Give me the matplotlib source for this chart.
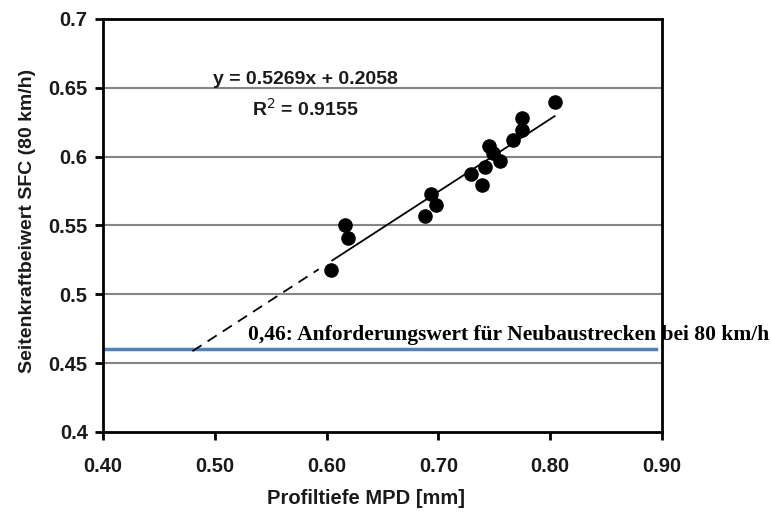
import numpy as np
import matplotlib.pyplot as plt

# Messwerte: Profiltiefe MPD [mm] und Seitenkraftbeiwert SFC (80 km/h)
mpd = [0.604, 0.6165, 0.619, 0.688, 0.6934, 0.698, 0.729, 0.739, 0.742,
       0.7455, 0.749, 0.755, 0.767, 0.7745, 0.7745, 0.8043]
sfc = [0.518, 0.550, 0.5406, 0.5568, 0.573, 0.5647, 0.5877, 0.5797, 0.5925,
       0.608, 0.6027, 0.597, 0.612, 0.619, 0.628, 0.640]

# lineare Regression (Angabe im Diagramm)
steigung = 0.5269
achsenabschnitt = 0.2058
r2 = 0.9155

# Anforderungswert
grenzwert = 0.46

x_ticks = [0.40, 0.50, 0.60, 0.70, 0.80, 0.90]
y_ticks = [0.4, 0.45, 0.5, 0.55, 0.6, 0.65, 0.7]

fig = plt.figure(figsize=(7.71, 5.12), dpi=100)
ax = fig.add_axes([0.1336, 0.1563, 0.725, 0.8066])

for yv in y_ticks[1:-1]:
    ax.axhline(yv, color='#858585', lw=1.5, zorder=1)

ax.plot([0.40, 0.895], [grenzwert, grenzwert], color='#4f81bd', lw=2.5, zorder=2)

# Trendlinie: gestrichelt extrapoliert, durchgezogen im Messbereich
xd = np.array([0.48, 0.593])
ax.plot(xd, steigung * xd + achsenabschnitt, color='black', lw=1.3,
        dashes=(6, 4), zorder=3)
xs = np.array([0.605, 0.804])
ax.plot(xs, steigung * xs + achsenabschnitt, color='black', lw=1.3, zorder=3)

ax.scatter(mpd, sfc, s=90, color='black', zorder=4)

ax.set_xlim(0.40, 0.90)
ax.set_ylim(0.4, 0.7)
ax.set_xticks(x_ticks)
ax.set_xticklabels(['%.2f' % v for v in x_ticks])
ax.set_yticks(y_ticks)
ax.set_yticklabels(['%g' % v for v in y_ticks])

for s in ax.spines.values():
    s.set_linewidth(2)
    s.set_color('black')
ax.tick_params(direction='out', length=6, width=2, color='black', pad=5)
for lab in ax.get_xticklabels() + ax.get_yticklabels():
    lab.set_fontfamily('Liberation Sans')
    lab.set_fontweight('bold')
    lab.set_fontsize(14.5)
    lab.set_color('#1a1a1a')
ax.tick_params(axis='x', pad=12)

ax.set_xlabel('Profiltiefe MPD [mm]', fontfamily='Liberation Sans',
              fontweight='bold', fontsize=14.5, color='#1a1a1a')
ax.xaxis.set_label_coords(0.47, -0.137)
ax.set_ylabel('Seitenkraftbeiwert SFC (80 km/h)', fontfamily='Liberation Sans',
              fontweight='bold', fontsize=14, color='#1a1a1a')
ax.yaxis.set_label_coords(-0.119, 0.511)

ax.text(0.5807, 0.656, 'y = %.4fx + %.4f' % (steigung, achsenabschnitt),
        ha='center', va='center', fontfamily='Liberation Sans',
        fontweight='bold', fontsize=14, color='#1a1a1a')
ax.text(0.5807, 0.6345, 'R$^2$ = %.4f' % r2, ha='center', va='center',
        fontfamily='Liberation Sans', fontweight='bold', fontsize=14,
        color='#1a1a1a')

ax.text(0.5297, grenzwert + 0.0035, '0,46: Anforderungswert für Neubaustrecken bei 80 km/h',
        ha='left', va='bottom', fontfamily='Liberation Serif', fontweight='bold',
        fontsize=15.5, color='black', clip_on=False)

fig.savefig('out.png', dpi=100)
